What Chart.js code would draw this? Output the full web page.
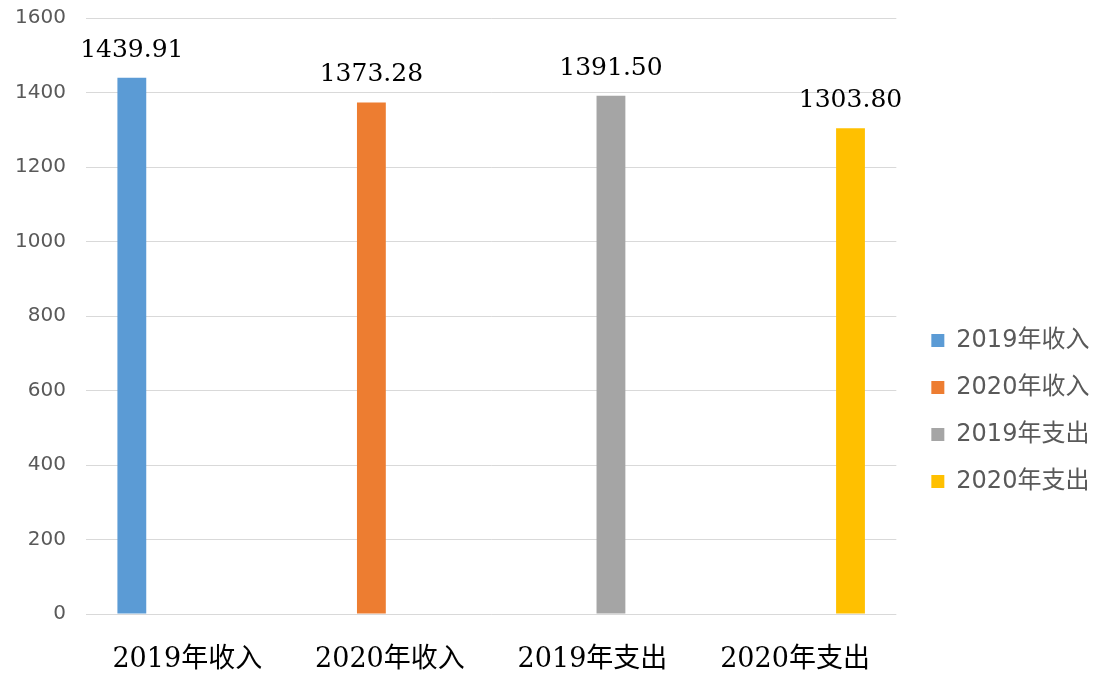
<!DOCTYPE html>
<html>
<head>
<meta charset="utf-8">
<script src="https://cdn.jsdelivr.net/npm/chart.js@4/dist/chart.umd.min.js"></script>
<style>
  body { margin: 0; background: #fff; }
</style>
</head>
<body>
<canvas id="bchart" width="1106" height="675"></canvas>
<script>
// categories and values
const categories = ["2019年收入", "2020年收入", "2019年支出", "2020年支出"];
const values = [1439.91, 1373.28, 1391.50, 1303.80];
const colors = ["#5B9BD5", "#ED7D31", "#A5A5A5", "#FFC000"];
const yTicks = [0, 200, 400, 600, 800, 1000, 1200, 1400, 1600];

const sansFont = "'DejaVu Sans', 'Noto Sans CJK SC', sans-serif";
const serifFont = "'DejaVu Serif', 'Noto Sans CJK SC', serif";

// one dataset per category, value only in its own slot
const datasets = categories.map((name, i) => ({
    label: name,
    backgroundColor: colors[i],
    data: categories.map((c, j) => j === i ? values[i] : null)
}));

// value labels above bars
const valueLabels = {
    id: 'valueLabels',
    afterDatasetsDraw(chart) {
        const ctx = chart.ctx;
        ctx.save();
        ctx.font = "25px " + serifFont;
        ctx.fillStyle = "#000";
        ctx.textAlign = "center";
        ctx.textBaseline = "alphabetic";
        chart.data.datasets.forEach((ds, i) => {
            const meta = chart.getDatasetMeta(i);
            meta.data.forEach((bar, j) => {
                if (ds.data[j] == null) return;
                ctx.fillText(ds.data[j].toFixed(2), bar.x, bar.y - 21);
            });
        });
        ctx.restore();
    }
};

function noPad(scale) {
    scale.paddingTop = 0;
    scale.paddingBottom = 0;
    scale.paddingLeft = 0;
    scale.paddingRight = 0;
}

new Chart(document.getElementById("bchart"), {
    type: 'bar',
    data: {
        labels: categories,
        datasets: datasets
    },
    options: {
        responsive: false,
        animation: false,
        layout: { padding: { top: 18, right: 16, bottom: 0, left: 0 } },
        datasets: {
            bar: { categoryPercentage: 0.73, barPercentage: 0.78 }
        },
        scales: {
            x: {
                afterFit(scale) { scale.height = 61; noPad(scale); },
                grid: { display: false, drawTicks: false },
                border: { display: false },
                ticks: {
                    padding: 30,
                    color: "#000",
                    maxRotation: 0,
                    font: { family: serifFont, size: 27 }
                }
            },
            y: {
                min: 0,
                max: 1600,
                afterFit(scale) { scale.width = 86; noPad(scale); },
                afterBuildTicks(scale) { scale.ticks = yTicks.map(v => ({ value: v })); },
                grid: { color: "#D9D9D9", lineWidth: 1, drawTicks: false },
                border: { display: false },
                ticks: {
                    padding: 20,
                    color: "#595959",
                    font: { family: sansFont, size: 20 },
                    callback: (v) => String(v)
                }
            },
            gap: {
                position: 'right',
                display: true,
                afterFit(scale) { scale.width = 12; noPad(scale); },
                grid: { display: false, drawTicks: false },
                border: { display: false },
                ticks: { display: false }
            }
        },
        plugins: {
            tooltip: { enabled: false },
            legend: {
                position: 'right',
                title: { display: true, text: ' ', font: { size: 12 }, padding: { top: 0, bottom: 114.6 } },
                labels: {
                    boxWidth: 13,
                    boxHeight: 13,
                    padding: 23,
                    color: "#595959",
                    font: { family: sansFont, size: 24 }
                }
            }
        }
    },
    plugins: [valueLabels]
});
</script>
</body>
</html>
